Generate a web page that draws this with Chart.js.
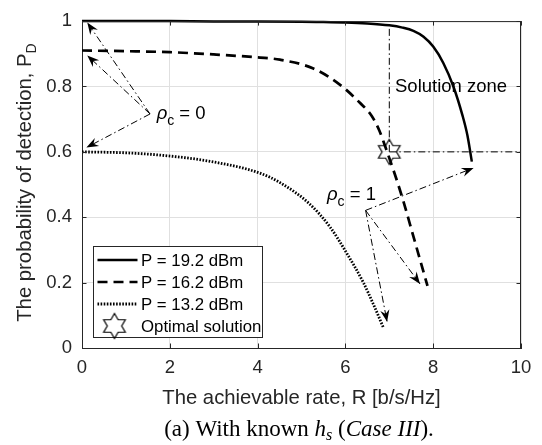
<!DOCTYPE html>
<html><head><meta charset="utf-8">
<style>html,body{margin:0;padding:0;background:#fff;} canvas{display:block;}</style>
<script src="https://cdn.jsdelivr.net/npm/chart.js@4.4.0/dist/chart.umd.min.js"></script>
</head><body>
<canvas id="c" width="542" height="445"></canvas>
<script>
// ---- data ----
const xTicks = [0, 2, 4, 6, 8, 10];
const xTickLabels = ['0', '2', '4', '6', '8', '10'];
const yTicks = [0, 0.2, 0.4, 0.6, 0.8, 1];
const yTickLabels = ['0', '0.2', '0.4', '0.6', '0.8', '1'];

const seriesNames = ['P = 19.2 dBm', 'P = 16.2 dBm', 'P = 13.2 dBm', 'Optimal solution'];

const rate192 = [0, 1, 2, 3, 4, 5, 5.5, 6, 6.5, 7.0, 7.3, 7.55, 7.78, 8.0, 8.23, 8.46, 8.67, 8.78, 8.88];
const pd192   = [1, 1, 1, 0.999, 0.999, 0.998, 0.997, 0.996, 0.993, 0.987, 0.98, 0.97, 0.952, 0.922, 0.872, 0.80, 0.71, 0.65, 0.57];

const rate162 = [0, 1, 2, 3, 3.9, 4.51, 5.27, 5.88, 6.33, 6.6, 6.77, 6.95, 7.13, 7.33, 7.52, 7.70, 7.87];
const pd162   = [0.91, 0.908, 0.905, 0.898, 0.89, 0.882, 0.855, 0.805, 0.75, 0.71, 0.666, 0.60, 0.53, 0.445, 0.355, 0.27, 0.19];

const rate132 = [0, 1, 1.78, 2.92, 4.05, 4.51, 5.19, 5.65, 6.03, 6.41, 6.65, 6.86];
const pd132   = [0.6, 0.597, 0.59, 0.571, 0.535, 0.506, 0.44, 0.37, 0.29, 0.20, 0.13, 0.064];

const optRate = [7.0];
const optPd   = [0.6];

const zoneVRate = [7.0, 7.0];
const zoneVPd   = [0.6, 1.0];
const zoneHRate = [7.0, 10.0];
const zoneHPd   = [0.6, 0.6];

const rho0From = [1.55, 0.716];
const rho0To   = [[0.12, 0.996], [0.12, 0.895], [0.10, 0.613]];
const rho1From = [6.46, 0.421];
const rho1To   = [[8.92, 0.551], [7.70, 0.196], [6.95, 0.08]];

// ---- styles ----
const FAM = '"Liberation Sans", Arial, Helvetica, sans-serif';
const SERIF = '"Liberation Serif", "Times New Roman", serif';
const INK = '#262626';
const f = (s, st) => `${st ? st + ' ' : ''}${s}px ${FAM}`;
const DASHDOT = [7, 3, 1.5, 3];

function pts(xs, ys) { return xs.map((x, i) => ({ x: x, y: ys[i] })); }

function makeHexagram(R, lw) {
  const c = document.createElement('canvas');
  const s = Math.ceil(2 * R + 2 * lw + 2);
  c.width = s; c.height = s;
  const g = c.getContext('2d');
  const cx = s / 2, cy = s / 2, r = R / Math.sqrt(3);
  g.beginPath();
  for (let i = 0; i < 12; i++) {
    const a = -Math.PI / 2 + i * Math.PI / 6;
    const rr = i % 2 === 0 ? R : r;
    const px = cx + rr * Math.cos(a), py = cy + rr * Math.sin(a);
    if (i === 0) g.moveTo(px, py); else g.lineTo(px, py);
  }
  g.closePath();
  g.lineWidth = lw; g.strokeStyle = '#000'; g.lineJoin = 'miter';
  g.stroke();
  return c;
}
const hexagram = makeHexagram(12.5, 1.2);

const curveStyles = [
  { borderWidth: 2.5, borderDash: [] },
  { borderWidth: 2.7, borderDash: [10, 6] },
  { borderWidth: 2.8, borderDash: [1.6, 1.5] }
];

const datasets = [];
[[rate192, pd192], [rate162, pd162], [rate132, pd132]].forEach((s, i) => {
  datasets.push({
    label: seriesNames[i], data: pts(s[0], s[1]), showLine: true,
    borderColor: '#000', borderWidth: curveStyles[i].borderWidth, borderDash: curveStyles[i].borderDash,
    borderCapStyle: 'butt', pointRadius: 0, cubicInterpolationMode: 'monotone', clip: 6, fill: false
  });
});
datasets.push({ label: 'zoneV', data: pts(zoneVRate, zoneVPd), showLine: true, borderColor: '#000', borderWidth: 1, borderDash: DASHDOT, pointRadius: 0, clip: 4 });
datasets.push({ label: 'zoneH', data: pts(zoneHRate, zoneHPd), showLine: true, borderColor: '#000', borderWidth: 1, borderDash: DASHDOT, pointRadius: 0, clip: 4 });
[[rho0From, rho0To], [rho1From, rho1To]].forEach(g => {
  g[1].forEach(t => {
    datasets.push({ label: 'arrow', arrow: true, data: [{ x: g[0][0], y: g[0][1] }, { x: t[0], y: t[1] }], showLine: true,
      borderColor: '#000', borderWidth: 1, borderDash: DASHDOT, pointRadius: 0, clip: 8 });
  });
});
datasets.push({ label: seriesNames[3], data: pts(optRate, optPd), showLine: false, pointStyle: hexagram, pointRadius: 12, clip: false });

// annotation anchors (data coords, left-baseline)
const notes = {
  zone: { x: 7.13, y: 0.784, text: 'Solution zone' },
  rho0: { x: 1.70, y: 0.701, val: '0' },
  rho1: { x: 5.58, y: 0.4515, val: '1' }
};

const drawPlugin = {
  id: 'extras',
  afterDatasetsDraw(chart) {
    const ctx = chart.ctx, xs = chart.scales.x, ys = chart.scales.y;
    // arrowheads
    chart.data.datasets.forEach((d, i) => {
      if (!d.arrow) return;
      const m = chart.getDatasetMeta(i);
      const p0 = m.data[0], p1 = m.data[1];
      const ang = Math.atan2(p1.y - p0.y, p1.x - p0.x);
      const L = 12, W = 4.6, N = 8;
      ctx.save();
      ctx.translate(p1.x, p1.y); ctx.rotate(ang);
      ctx.beginPath();
      ctx.moveTo(0, 0); ctx.lineTo(-L, -W); ctx.lineTo(-N, 0); ctx.lineTo(-L, W); ctx.closePath();
      ctx.fillStyle = '#000'; ctx.fill();
      ctx.restore();
    });
    // annotations
    ctx.save();
    ctx.fillStyle = '#000'; ctx.textBaseline = 'alphabetic'; ctx.textAlign = 'left';
    ctx.font = f(18.5);
    ctx.fillText(notes.zone.text, xs.getPixelForValue(notes.zone.x), ys.getPixelForValue(notes.zone.y));
    [notes.rho0, notes.rho1].forEach(n => {
      let x = xs.getPixelForValue(n.x); const y = ys.getPixelForValue(n.y);
      ctx.font = f(18.5, 'italic'); ctx.fillText('\u03C1', x, y); x += ctx.measureText('\u03C1').width;
      ctx.font = f(14); ctx.fillText('c', x, y + 6); x += ctx.measureText('c').width;
      ctx.font = f(18.5); ctx.fillText(' = ' + n.val, x, y);
    });
    ctx.restore();
    // legend
    ctx.save();
    const L0 = 93.5, T0 = 246.5, R0 = 262.5, B0 = 337.5;
    ctx.fillStyle = '#fff'; ctx.fillRect(L0, T0, R0 - L0, B0 - T0);
    ctx.strokeStyle = INK; ctx.lineWidth = 1; ctx.setLineDash([]);
    ctx.strokeRect(L0, T0, R0 - L0, B0 - T0);
    const rows = [260, 282, 304, 326];
    for (let i = 0; i < 3; i++) {
      ctx.beginPath(); ctx.strokeStyle = '#000';
      ctx.lineWidth = curveStyles[i].borderWidth; ctx.setLineDash(curveStyles[i].borderDash); ctx.lineCap = 'butt';
      ctx.moveTo(97.5, rows[i]); ctx.lineTo(137.5, rows[i]); ctx.stroke();
    }
    ctx.setLineDash([]);
    ctx.drawImage(hexagram, 114.5 - hexagram.width / 2, rows[3] - hexagram.height / 2);
    ctx.fillStyle = '#000'; ctx.font = f(16.8); ctx.textBaseline = 'middle';
    for (let i = 0; i < 4; i++) ctx.fillText(seriesNames[i], 141, rows[i] + 1);
    ctx.restore();
  },
  afterDraw(chart) {
    const ctx = chart.ctx, a = chart.chartArea, xs = chart.scales.x, ys = chart.scales.y;
    ctx.save();
    ctx.strokeStyle = INK; ctx.lineWidth = 1; ctx.setLineDash([]);
    ctx.beginPath();
    ctx.moveTo(a.left, a.top + 0.5); ctx.lineTo(a.right, a.top + 0.5);
    ctx.moveTo(a.right - 0.5, a.top); ctx.lineTo(a.right - 0.5, a.bottom);
    const TL = 4.5;
    xTicks.forEach(v => {
      const x = Math.round(xs.getPixelForValue(v)) + 0.5;
      ctx.moveTo(x, a.bottom); ctx.lineTo(x, a.bottom - TL);
      ctx.moveTo(x, a.top); ctx.lineTo(x, a.top + TL);
    });
    yTicks.forEach(v => {
      const y = Math.round(ys.getPixelForValue(v)) + 0.5;
      ctx.moveTo(a.left, y); ctx.lineTo(a.left + TL, y);
      ctx.moveTo(a.right, y); ctx.lineTo(a.right - TL, y);
    });
    ctx.stroke();
    // axis titles
    ctx.fillStyle = INK; ctx.textBaseline = 'alphabetic';
    ctx.font = f(20.3); ctx.textAlign = 'center';
    ctx.fillText('The achievable rate, R [b/s/Hz]', (a.left + a.right) / 2, 404);
    ctx.textAlign = 'left';
    ctx.save();
    ctx.translate(31, (a.top + a.bottom) / 2 - 2); ctx.rotate(-Math.PI / 2);
    const main = 'The probability of detection, P';
    ctx.font = f(20.3); const w1 = ctx.measureText(main).width;
    ctx.font = f(14); const w2 = ctx.measureText('D').width;
    const s0 = -(w1 + w2) / 2;
    ctx.font = f(20.3); ctx.fillText(main, s0, 0);
    ctx.font = f(14); ctx.fillText('D', s0 + w1, 5);
    ctx.restore();
    // caption
    const segs = [
      { t: '(a) With known ', st: '', s: 23, dy: 0 },
      { t: 'h', st: 'italic', s: 23, dy: 0 },
      { t: 's', st: 'italic', s: 16, dy: 3.5 },
      { t: ' (', st: '', s: 23, dy: 0 },
      { t: 'Case III', st: 'italic', s: 23, dy: 0 },
      { t: ').', st: '', s: 23, dy: 0 }
    ];
    let tw = 0;
    segs.forEach(g => { ctx.font = `${g.st} ${g.s}px ${SERIF}`; g.w = ctx.measureText(g.t).width; tw += g.w; });
    let cx = 299 - tw / 2;
    ctx.fillStyle = '#000';
    segs.forEach(g => { ctx.font = `${g.st} ${g.s}px ${SERIF}`; ctx.fillText(g.t, cx, 436 + g.dy); cx += g.w; });
    ctx.restore();
  }
};

new Chart(document.getElementById('c'), {
  type: 'scatter',
  data: { datasets: datasets },
  options: {
    responsive: false, devicePixelRatio: 1, animation: false, events: [],
    layout: { padding: { left: 0, right: 21, top: 13, bottom: 0 } },
    plugins: { legend: { display: false }, tooltip: { enabled: false } },
    scales: {
      x: {
        type: 'linear', min: 0, max: 10,
        afterBuildTicks: s => { s.ticks = xTicks.map(v => ({ value: v })); },
        afterFit: s => { s.height = 97; },
        ticks: { callback: v => xTickLabels[xTicks.indexOf(v)], font: { family: FAM, size: 18.5 }, color: INK, padding: 9, maxRotation: 0, autoSkip: false },
        grid: { color: '#e0e0e0', lineWidth: 1, drawTicks: false },
        border: { color: INK, width: 1 }
      },
      y: {
        type: 'linear', min: 0, max: 1,
        afterBuildTicks: s => { s.ticks = yTicks.map(v => ({ value: v })); },
        afterFit: s => { s.width = 82; },
        ticks: { callback: v => yTickLabels[yTicks.findIndex(t => Math.abs(t - v) < 1e-9)], font: { family: FAM, size: 18.5 }, color: INK, padding: 10, autoSkip: false },
        grid: { color: '#e0e0e0', lineWidth: 1, drawTicks: false },
        border: { color: INK, width: 1 }
      }
    }
  },
  plugins: [drawPlugin]
});
</script>
</body></html>
